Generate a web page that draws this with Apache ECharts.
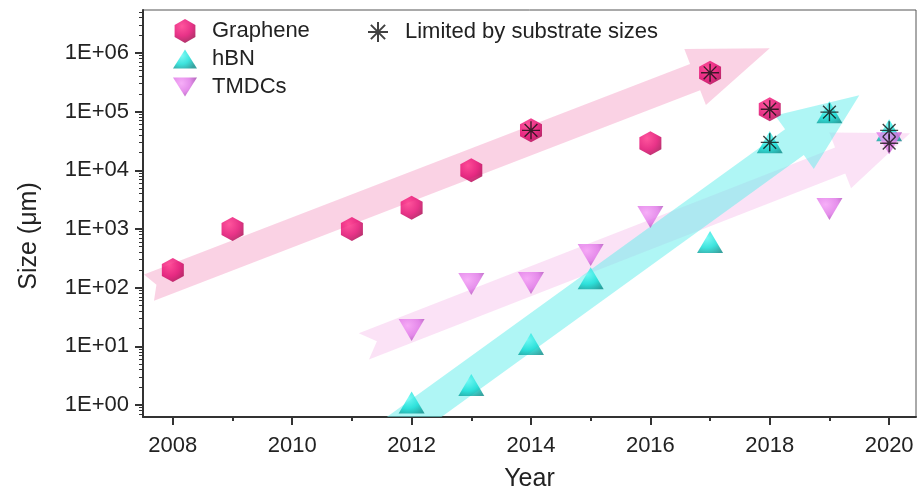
<!DOCTYPE html>
<html>
<head>
<meta charset="utf-8">
<script src="https://cdn.jsdelivr.net/npm/echarts@6/dist/echarts.min.js"></script>
<style>
  html, body { margin: 0; padding: 0; background: #fff; }
  #chart { width: 918px; height: 497px; }
</style>
</head>
<body>
<div id="chart"></div>
<script>
// tick values
const majorYears = [2008, 2010, 2012, 2014, 2016, 2018, 2020];
const minorYears = [2009, 2011, 2013, 2015, 2017, 2019];
const decades = [1, 10, 100, 1000, 10000, 100000, 1000000];
const minorSizes = [0.7, 0.8, 0.9];
decades.forEach(d => {
    for (let k = 2; k <= 9; k++) { if (k * d < 5.4e6) minorSizes.push(k * d); }
});

// [year, size in um]
const graphene = [[2008, 200], [2009, 1000], [2011, 1000], [2012, 2300], [2013, 10000],
    [2014, 48000], [2016, 29000], [2017, 460000], [2018, 110000]];
const hbn = [[2012, 1.1], [2013, 2.2], [2014, 11], [2015, 145], [2017, 600],
    [2018, 30000], [2019, 98000], [2020, 48000]];
const tmdcs = [[2012, 19], [2013, 115], [2014, 120], [2015, 360], [2016, 1600],
    [2019, 2200], [2020, 29000]];
const limited = [[2014, 48000], [2017, 460000], [2018, 110000], [2018, 30000],
    [2019, 98000], [2020, 48000], [2020, 29000]];

// trend arrows: [tailYear, tailSize, tipYear, tipSize]
const grapheneArrow = [2007.6, 100, 2018.0, 1.2e6];
const hbnArrow = [2011.5, 0.25, 2019.5, 1.9e5];
const tmdcArrow = [2011.2, 10, 2020.35, 43000];

const FONT = 'Arial, "Liberation Sans", sans-serif';

const HEX = 'path://M0,-1 L0.866,-0.5 L0.866,0.5 L0,1 L-0.866,0.5 L-0.866,-0.5 Z';
const DOWN = 'path://M0,0 L2,0 L1,1.6 Z';
const UP = 'path://M1,0 L2,1.6 L0,1.6 Z';
const STAR = 'path://M10,0 L10,20 M0,10 L20,10 M2.9,2.9 L17.1,17.1 M2.9,17.1 L17.1,2.9';

function shade(light, mid, dark) {
    return new echarts.graphic.RadialGradient(0.35, 0.3, 0.85, [
        { offset: 0, color: light },
        { offset: 0.55, color: mid },
        { offset: 1, color: dark }
    ]);
}

function arrowSeries(name, values, style) {
    return {
        name: name,
        type: 'custom',
        clip: true,
        silent: true,
        z: 1,
        encode: { x: [0, 2], y: [1, 3] },
        data: [values],
        renderItem: function (params, api) {
            const p0 = api.coord([api.value(0), api.value(1)]);
            const p1 = api.coord([api.value(2), api.value(3)]);
            const dx = p1[0] - p0[0], dy = p1[1] - p0[1];
            const len = Math.sqrt(dx * dx + dy * dy);
            const ux = dx / len, uy = dy / len, nx = -uy, ny = ux;
            const pt = (a, b) => [p0[0] + ux * a + nx * b, p0[1] + uy * a + ny * b];
            const s = style.shaft / 2, h = style.head / 2, L = len - style.headLen;
            return {
                type: 'polygon',
                shape: {
                    points: [pt(0, -s), pt(L, -s), pt(L, -h), pt(len, 0),
                        pt(L, h), pt(L, s), pt(0, s), pt(style.notch, 0)]
                },
                style: { fill: style.color }
            };
        }
    };
}

const chart = echarts.init(document.getElementById('chart'));

const option = {
    animation: false,
    grid: {
        left: 143, right: 2, top: 10, bottom: 80,
        show: true, borderColor: '#555', borderWidth: 1
    },
    graphic: [{
        type: 'text',
        x: 29, y: 236,
        rotation: Math.PI / 2,
        style: {
            text: 'Size (μm)',
            font: '25px ' + FONT,
            fill: '#222',
            textAlign: 'center',
            textVerticalAlign: 'middle'
        }
    }],
    legend: [{
        orient: 'vertical',
        left: 168, top: 14,
        itemWidth: 24, itemHeight: 24, itemGap: 4,
        textStyle: { fontFamily: FONT, fontSize: 22, lineHeight: 24, color: '#222', padding: [0, 0, 0, 10] },
        data: ['Graphene', 'hBN', 'TMDCs']
    }, {
        left: 362, top: 15,
        itemWidth: 20, itemHeight: 20,
        textStyle: { fontFamily: FONT, fontSize: 22, lineHeight: 24, color: '#222', padding: [0, 0, 0, 12] },
        data: ['Limited by substrate sizes']
    }],
    xAxis: [{
        type: 'value',
        min: 2007.5, max: 2020.45,
        name: 'Year',
        nameLocation: 'middle',
        nameGap: 50,
        nameTextStyle: { fontFamily: FONT, fontSize: 25, color: '#222' },
        axisLine: { lineStyle: { color: '#333', width: 2 } },
        axisTick: { customValues: majorYears, length: 8, lineStyle: { color: '#333', width: 2 } },
        axisLabel: {
            customValues: majorYears, margin: 18,
            fontFamily: FONT, fontSize: 22, color: '#222',
            formatter: v => String(v)
        },
        splitLine: { show: false }
    }, {
        type: 'value',
        min: 2007.5, max: 2020.45,
        position: 'bottom',
        axisLine: { show: false },
        axisTick: { customValues: minorYears, length: 4, lineStyle: { color: '#333', width: 2 } },
        axisLabel: { show: false },
        splitLine: { show: false }
    }],
    yAxis: [{
        type: 'log',
        logBase: 10,
        min: 0.625, max: 5.4e6,
        axisLine: { show: true, lineStyle: { color: '#333', width: 2 } },
        axisTick: { customValues: decades, length: 8, lineStyle: { color: '#333', width: 2 } },
        axisLabel: {
            customValues: decades, margin: 14,
            fontFamily: FONT, fontSize: 22, color: '#222',
            formatter: v => '1E+' + String(Math.round(Math.log10(v))).padStart(2, '0')
        },
        splitLine: { show: false }
    }, {
        type: 'log',
        logBase: 10,
        min: 0.625, max: 5.4e6,
        position: 'left',
        axisLine: { show: false },
        axisTick: { customValues: minorSizes, length: 4, lineStyle: { color: '#333', width: 1 } },
        axisLabel: { show: false },
        splitLine: { show: false }
    }],
    series: [
        arrowSeries('grapheneArrow', grapheneArrow,
            { color: 'rgba(246,168,204,0.52)', shaft: 28, head: 60, headLen: 80, notch: 8 }),
        arrowSeries('tmdcArrow', tmdcArrow,
            { color: 'rgba(246,190,236,0.45)', shaft: 28, head: 60, headLen: 75, notch: 14 }),
        arrowSeries('hbnArrow', hbnArrow,
            { color: 'rgba(110,238,236,0.55)', shaft: 32, head: 66, headLen: 80, notch: 0 }),
        {
            name: 'Graphene',
            type: 'scatter',
            z: 3,
            symbol: HEX,
            symbolSize: [22, 24],
            itemStyle: { color: shade('#ff2a84', '#e2006a', '#960042') },
            data: graphene
        },
        {
            name: 'hBN',
            type: 'scatter',
            z: 3,
            symbol: UP,
            symbolSize: [26, 22],
            itemStyle: { color: shade('#5ffaf4', '#0edcd4', '#088c88') },
            data: hbn
        },
        {
            name: 'TMDCs',
            type: 'scatter',
            z: 3,
            symbol: DOWN,
            symbolSize: [26, 22],
            itemStyle: { color: shade('#f49af6', '#de72e6', '#9a40a6') },
            data: tmdcs
        },
        {
            name: 'Limited by substrate sizes',
            type: 'scatter',
            z: 4,
            symbol: STAR,
            symbolSize: 18,
            itemStyle: { color: 'rgba(0,0,0,0)', borderColor: '#111', borderWidth: 1.4 },
            data: limited
        }
    ]
};

chart.setOption(option);
</script>
</body>
</html>
